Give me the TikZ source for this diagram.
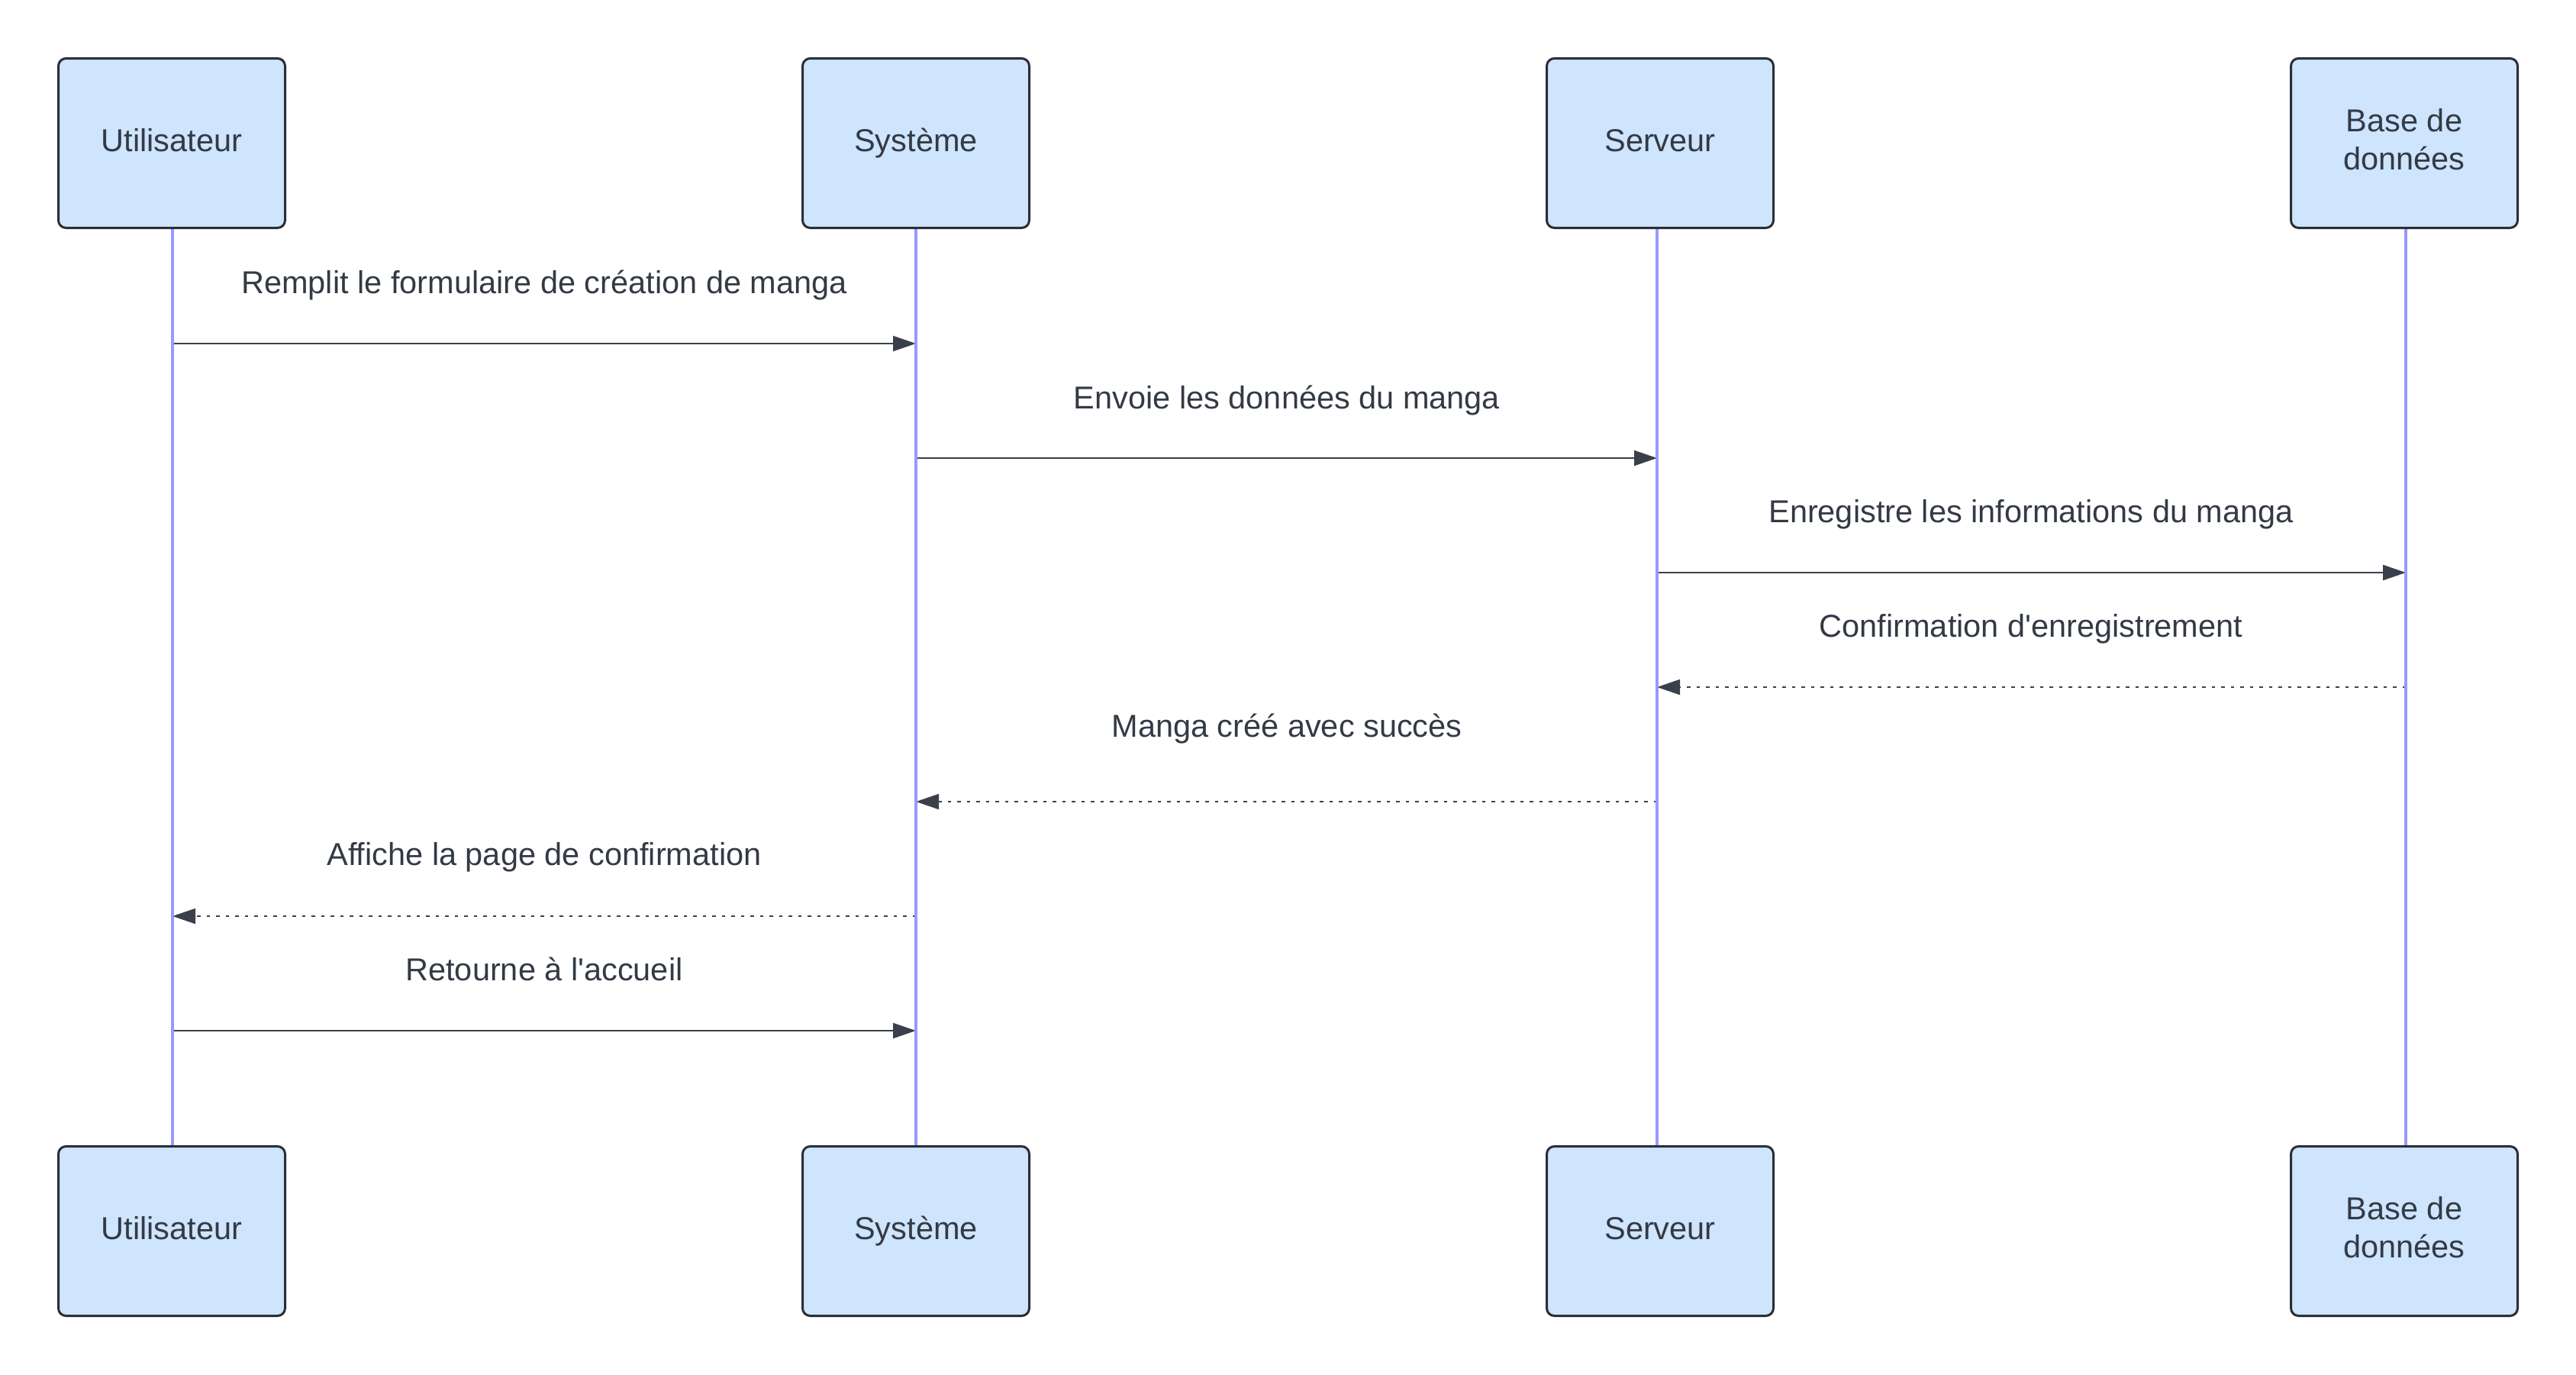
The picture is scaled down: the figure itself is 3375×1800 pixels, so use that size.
\documentclass[tikz,border=0pt]{standalone}
\usepackage{fontspec}
\setmainfont{Liberation Sans}
\usetikzlibrary{arrows.meta}
\definecolor{boxfill}{HTML}{CFE4FD}
\definecolor{boxline}{HTML}{2A2F36}
\definecolor{txt}{HTML}{333A45}
\definecolor{life}{HTML}{9999FF}
\definecolor{msg}{HTML}{3A404B}
\begin{document}
\begin{tikzpicture}[x=1pt,y=-1pt,
  actor/.style={draw=boxline, fill=boxfill, line width=3pt, rounded corners=10pt,
    minimum width=297pt, minimum height=222pt, inner sep=0pt, text=txt,
    font=\fontsize{41.5}{50}\selectfont, text height=30pt, text depth=8pt},
  actortext/.style={text=txt, font=\fontsize{41.5}{50}\selectfont, inner sep=0pt, align=center},
  lifeline/.style={draw=life, line width=4pt},
  msgline/.style={draw=msg, line width=2pt, -{Triangle[length=30pt,width=20pt]}},
  reply/.style={msgline, dash pattern=on 4.5pt off 8pt},
  lbl/.style={text=txt, font=\fontsize{41.5}{48}\selectfont, inner sep=0pt, anchor=base}]
\fill[white] (0,0) rectangle (3375,1800);
\useasboundingbox (0,0) rectangle (3375,1800);
% lifeline end points
\coordinate (lu) at (226,300);
\coordinate (ls) at (1200,300);
\coordinate (lv) at (2171,300);
\coordinate (lb) at (3152,300);
\coordinate (lub) at (226,1500);
\coordinate (lsb) at (1200,1500);
\coordinate (lvb) at (2171,1500);
\coordinate (lbb) at (3152,1500);
% message points
\path (lu |- 0,450) coordinate (u1) (ls |- 0,450) coordinate (s1);
\path (ls |- 0,600) coordinate (s2) (lv |- 0,600) coordinate (v2);
\path (lv |- 0,750) coordinate (v3) (lb |- 0,750) coordinate (b3);
\path (lb |- 0,900) coordinate (b4) (lv |- 0,900) coordinate (v4);
\path (lv |- 0,1050) coordinate (v5) (ls |- 0,1050) coordinate (s5);
\path (ls |- 0,1200) coordinate (s6) (lu |- 0,1200) coordinate (u6);
\path (lu |- 0,1350) coordinate (u7) (ls |- 0,1350) coordinate (s7);
% messages
\draw[msgline] (u1) -- (s1);
\draw[msgline] (s2) -- (v2);
\draw[msgline] (v3) -- (b3);
\draw[reply] (b4) -- (v4);
\draw[reply] (v5) -- (s5);
\draw[reply] (s6) -- (u6);
\draw[msgline] (u7) -- (s7);
% lifelines
\draw[lifeline] (lu) -- (lub);
\draw[lifeline] (ls) -- (lsb);
\draw[lifeline] (lv) -- (lvb);
\draw[lifeline] (lb) -- (lbb);
% actors
\node[actor] (ut) at (225,187.5) {Utilisateur};
\node[actor] (sy) at (1200,187.5) {Système};
\node[actor] (sv) at (2175,187.5) {Serveur};
\node[actor] (db) at (3150,187.5) {};
\node[actortext] (dbt) at ([yshift=5pt]db.center) {Base de\\données};
\node[actor] (utb) at (225,1612.5) {Utilisateur};
\node[actor] (syb) at (1200,1612.5) {Système};
\node[actor] (svb) at (2175,1612.5) {Serveur};
\node[actor] (dbb) at (3150,1612.5) {};
\node[actortext] (dbbt) at ([yshift=5pt]dbb.center) {Base de\\données};
% labels
\node[lbl] (t1) at (713,384) {Remplit le formulaire de création de manga};
\node[lbl] (t2) at (1686,535) {Envoie les données du manga};
\node[lbl] (t3) at (2661,684) {Enregistre les informations du manga};
\node[lbl] (t4) at (2661,834) {Confirmation d\textquotesingle enregistrement};
\node[lbl] (t5) at (1686,965) {Manga créé avec succès};
\node[lbl] (t6) at (713,1133) {Affiche la page de confirmation};
\node[lbl] (t7) at (713,1284) {Retourne à l\textquotesingle accueil};
\end{tikzpicture}
\end{document}
